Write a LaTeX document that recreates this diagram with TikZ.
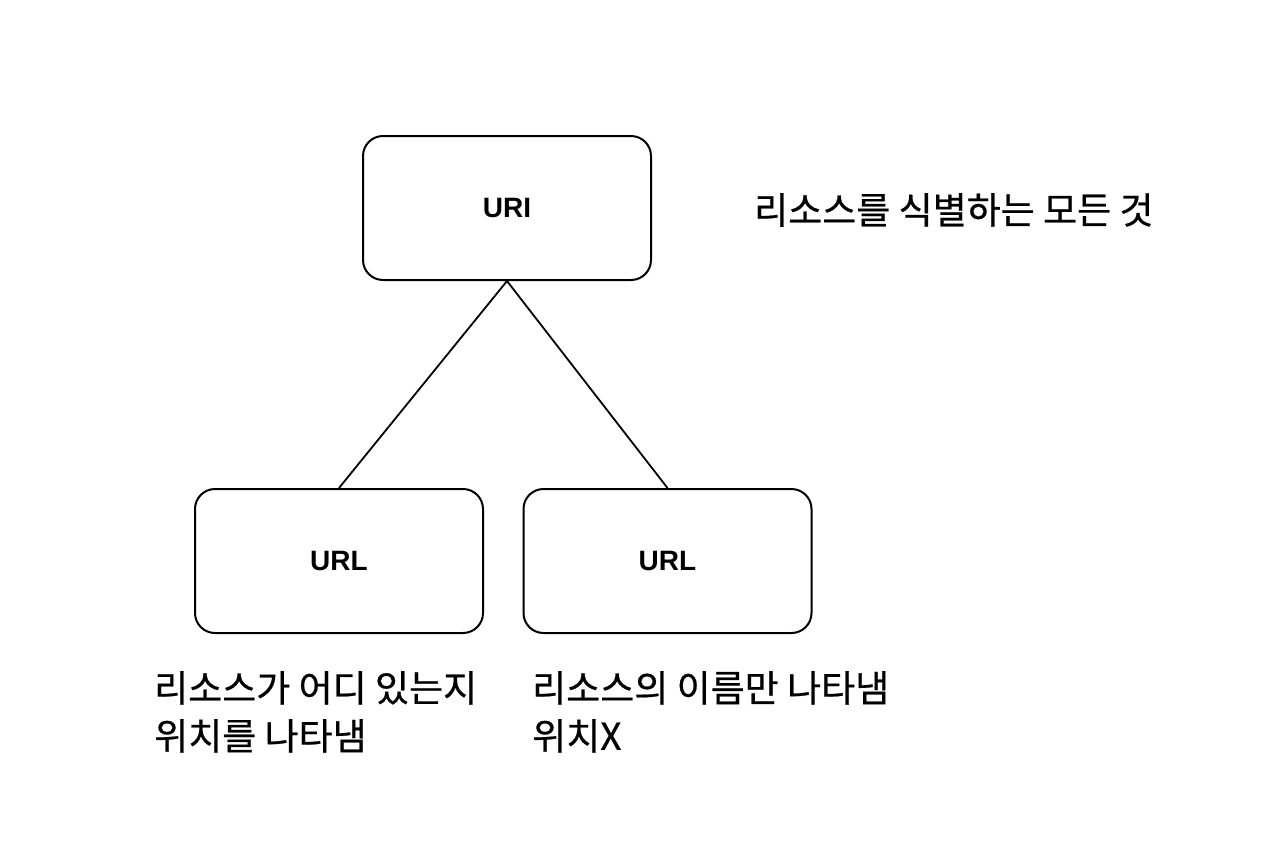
\documentclass[tikz,border=0pt]{standalone}
\usepackage{fontspec}
\newfontfamily\kr[FakeBold=0.6]{Noto Sans CJK KR}
\newfontfamily\lat{Liberation Sans}
\begin{document}
\begin{tikzpicture}[x=1pt,y=-1pt,
  box/.style={draw=black, line width=2pt, rounded corners=20pt, minimum width=288pt, minimum height=144pt, inner sep=0pt, font=\lat\bfseries\fontsize{28}{32}\selectfont},
  link/.style={draw=black, line width=1.8pt},
  lbl/.style={inner sep=0pt, align=left, font=\kr\fontsize{37}{48}\selectfont}]
\useasboundingbox (0,0) rectangle (1262,868);
\fill[white] (0,0) rectangle (1262,868);
\node[box] (uri) at (507,208) {URI};
\node[box] (urla) at (339,561) {URL};
\node[box] (urlb) at (667.5,561) {URL};
\draw[link] (uri.south) -- (urla.north);
\draw[link] (uri.south) -- (urlb.north);
\node[lbl, anchor=west] (t1) at (754,210) {리소스를 식별하는 모든 것};
\node[lbl, anchor=north west] (t2) at (154,671) {리소스가 어디 있는지\\위치를 나타냄};
\node[lbl, anchor=north west] (t3) at (532,671) {리소스의 이름만 나타냄\\위치X};
\end{tikzpicture}
\end{document}
